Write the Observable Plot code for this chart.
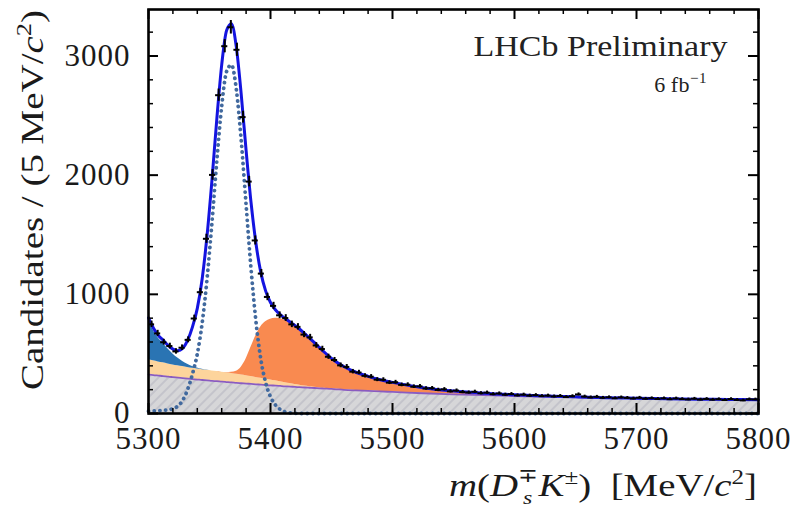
<!DOCTYPE html>
<html><head><meta charset="utf-8">
<script src="https://cdn.jsdelivr.net/npm/d3@7"></script>
<script src="https://cdn.jsdelivr.net/npm/@observablehq/plot@0.6"></script>
<style>body{margin:0;background:#fff;} svg{display:block}</style>
</head><body><div id="chart"></div>
<script>
// Fit-curve mass grid (MeV/c^2)
const massGrid = [5300,5304,5308,5312,5316,5320,5324,5328,5332,5336,5340,5344,5348,5352,5356,5360,5364,5368,5372,5376,5380,5384,5388,5392,5396,5400,5404,5408,5412,5416,5420,5424,5428,5432,5436,5440,5444,5448,5452,
  5460,5470,5480,5490,5500,
  5525,5550,5575,5600,5625,5650,5675,5700,5725,5750,5775,5800];
// Combinatorial background (grey hatched)
const combinatorial = [318,313,309,305,300,296,292,288,284,280,276,272,269,265,262,258,255,252,248,245,242,239,236,233,230,227,225,222,219,217,214,212,209,207,205,202,200,198,196,
  191,186,182,177,173,
  163,154,147,140,134,129,124,120,117,113,111,108];
// Small purple component
const purpleComp = [9,9,9,9,9,9,9,9,9,9,9,9,9,9,9,9,9,9,9,9,9,9,9,9,9,9,9,9,9,9,9,9,9,9,9,9,9,9,9,
  8,8,8,8,8,
  7,7,7,7,7,7,7,7,7,7,7,7];
// Light orange (partially reconstructed)
const peachComp = [125,120,115,111,107,103,100,97,94,91,89,87,85,83,81,79,77,75,72,69,66,62,58,54,50,45,40,35,30,25,20,16,12,9,6,4,2,1,0,
  0,0,0,0,0,
  0,0,0,0,0,0,0,0,0,0,0,0];
// Dark blue (low-mass tail)
const blueComp = [330,255,200,165,125,92,64,42,26,15,8,3,1,0,0,0,0,0,0,0,0,0,0,0,0,0,0,0,0,0,0,0,0,0,0,0,0,0,0,
  0,0,0,0,0,
  0,0,0,0,0,0,0,0,0,0,0,0];
// Orange (misidentified) hump
const orangeComp = [0,0,0,0,0,0,0,0,0,0,0,0,0,0,0,0,3,10,25,65,140,245,350,430,480,510,525,530,525,512,495,470,440,408,375,340,305,272,242,
  195,152,122,98,80,
  46,27,16,10,6,4,2,1,0,0,0,0];
// Signal (dotted)
const signalComp = [20,21,23,26,30,40,62,110,200,330,500,760,1130,1600,2120,2580,2870,2925,2720,2290,1750,1220,780,460,260,140,72,34,14,5,1,0,0,0,0,0,0,0,0,
  0,0,0,0,0,
  0,0,0,0,0,0,0,0,0,0,0,0];

// Data: 5 MeV bins starting at 5300
const binStart = 5300, binWidth = 5;
const counts = [748,672,598,566,521,552,618,797,1018,1466,
  2002,2671,3082,3241,3052,2487,1946,1452,1174,978,
  903,824,801,748,727,662,639,571,541,476,
  449,404,391,351,344,316,309,284,283,259,
  262,240,242,225,228,210,212,198,203,186,
  192,180,176,182,170,175,162,168,158,163,
  152,158,150,154,146,150,143,147,138,145,
  160,142,135,140,132,136,128,135,131,126,
  132,124,128,122,127,120,126,121,118,124,
  117,122,116,120,113,121,114,110,119,118];

const xMajor = [5300,5400,5500,5600,5700,5800];
const xMinor = [5320,5340,5360,5380,5420,5440,5460,5480,5520,5540,5560,5580,5620,5640,5660,5680,5720,5740,5760,5780];
const yMajor = [0,1000,2000,3000];
const yMinor = [200,400,600,800,1200,1400,1600,1800,2200,2400,2600,2800,3200];

const fit = massGrid.map((m, i) => {
  const c0 = combinatorial[i];
  const c1 = c0 + purpleComp[i];
  const c2 = c1 + peachComp[i];
  const c3 = c2 + blueComp[i];
  const c4 = c3 + orangeComp[i];
  return {m, c0, c1, c2, c3, c4, sig: signalComp[i], tot: c4 + signalComp[i]};
});
const pts = counts.map((n, i) => ({m: binStart + binWidth * (i + 0.5), n, e: Math.sqrt(n)}));

const curve = "monotone-x";
const W = 799, H = 516, mT = 9, mR = 41, mB = 103, mL = 148;
const fh = H - mT - mB, fw = W - mL - mR;

const svg = Plot.plot({
  width: W, height: H,
  marginTop: mT, marginRight: mR, marginBottom: mB, marginLeft: mL,
  x: {domain: [5300, 5800]},
  y: {domain: [0, 3390]},
  style: {fontFamily: "'Liberation Serif', serif", fontSize: "31px", color: "#1a1a1a", background: "white", letterSpacing: "1px"},
  marks: [
    Plot.area(fit, {x1: "m", y1: 0, y2: "c0", fill: "url(#hatch)", curve}),
    Plot.area(fit, {x1: "m", y1: "c1", y2: "c2", fill: "#fdd49c", curve}),
    Plot.area(fit, {x1: "m", y1: "c2", y2: "c3", fill: "#2a74b3", curve}),
    Plot.area(fit, {x1: "m", y1: "c3", y2: "c4", fill: "#f98a50", curve}),
    Plot.line(fit, {x: "m", y: "c1", stroke: "#8a5cc0", strokeWidth: 1.8, curve}),
    Plot.line(fit, {x: "m", y: "sig", stroke: "#41699e", strokeWidth: 3.8, strokeDasharray: "0.1 5.6", strokeLinecap: "round", curve}),
    Plot.line(fit, {x: "m", y: "tot", stroke: "#1414e0", strokeWidth: 3, curve}),
    Plot.ruleX(pts, {x: "m", y1: d => d.n - d.e, y2: d => d.n + d.e, stroke: "black", strokeWidth: 2}),
    Plot.ruleY(pts, {y: "n", x1: d => d.m - binWidth / 2, x2: d => d.m + binWidth / 2, stroke: "black", strokeWidth: 2}),
    // inward ticks on all four sides
    Plot.tickX(xMajor, {x: d => d, insetTop: fh - 10, stroke: "black", strokeWidth: 2}),
    Plot.tickX(xMajor, {x: d => d, insetBottom: fh - 10, stroke: "black", strokeWidth: 2}),
    Plot.tickX(xMinor, {x: d => d, insetTop: fh - 5, stroke: "black", strokeWidth: 1.5}),
    Plot.tickX(xMinor, {x: d => d, insetBottom: fh - 5, stroke: "black", strokeWidth: 1.5}),
    Plot.tickY(yMajor, {y: d => d, insetRight: fw - 10, stroke: "black", strokeWidth: 2}),
    Plot.tickY(yMajor, {y: d => d, insetLeft: fw - 10, stroke: "black", strokeWidth: 2}),
    Plot.tickY(yMinor, {y: d => d, insetRight: fw - 5, stroke: "black", strokeWidth: 1.5}),
    Plot.tickY(yMinor, {y: d => d, insetLeft: fw - 5, stroke: "black", strokeWidth: 1.5}),
    Plot.axisX(xMajor, {tickSize: 0, tickPadding: 13, label: null, tickFormat: d => String(d)}),
    Plot.axisY(yMajor, {tickSize: 0, tickPadding: 18, label: null, tickFormat: d => String(d)}),
    Plot.frame({stroke: "black", strokeWidth: 2.6}),
    Plot.text(["LHCb Preliminary"], {text: d => d, frameAnchor: "top-right", dx: -31, dy: 46, textAnchor: "end", lineAnchor: "bottom", fontSize: 30, fill: "#222"})
  ]
});

// hatch pattern for the combinatorial background
const defs = d3.select(svg).insert("defs", ":first-child");
const pat = defs.append("pattern").attr("id", "hatch").attr("patternUnits", "userSpaceOnUse")
  .attr("width", 7).attr("height", 7).attr("patternTransform", "rotate(45)");
pat.append("rect").attr("width", 7).attr("height", 7).attr("fill", "#d6d6d8");
pat.append("line").attr("x1", 1).attr("y1", 0).attr("x2", 1).attr("y2", 7).attr("stroke", "#c0c0c8").attr("stroke-width", 1.6);

const s = d3.select(svg);
// stretch the experiment label like the wide Computer Modern face
s.selectAll("text").filter(function() { return this.textContent === "LHCb Preliminary"; })
  .attr("textLength", 254).attr("lengthAdjust", "spacingAndGlyphs").style("letter-spacing", "0px");

// luminosity label with superscript
const lum = s.append("text").attr("x", 707).attr("y", 92).attr("text-anchor", "end")
  .attr("font-size", 22).attr("fill", "#222").style("letter-spacing", "0.5px");
lum.append("tspan").text("6\u2009fb");
lum.append("tspan").attr("font-size", 15).attr("dy", -9).text("\u22121");

// axis titles with sub/superscripts
const xl = s.append("text").attr("x", W - mR - 1).attr("y", 496).attr("text-anchor", "end")
  .attr("font-size", 31).attr("fill", "#1a1a1a").style("letter-spacing", "0px")
  .attr("textLength", 308).attr("lengthAdjust", "spacingAndGlyphs");
xl.append("tspan").attr("font-style", "italic").text("m");
xl.append("tspan").text("(");
xl.append("tspan").attr("font-style", "italic").text("D");
xl.append("tspan").attr("font-size", 19).attr("dy", -14).text("\u2213");
xl.append("tspan").attr("font-size", 19).attr("font-style", "italic").attr("dx", -12).attr("dy", 22).text("s");
xl.append("tspan").attr("font-style", "italic").attr("dx", 5).attr("dy", -8).text("K");
xl.append("tspan").attr("font-size", 20).attr("dy", -12).text("\u00B1");
xl.append("tspan").attr("dy", 12).text(")\u2002[MeV/");
xl.append("tspan").attr("font-style", "italic").text("c");
xl.append("tspan").attr("font-size", 20).attr("dy", -12).text("2");
xl.append("tspan").attr("dy", 12).text("]");

const yl = s.append("text").attr("transform", `translate(43,${mT + 1}) rotate(-90)`).attr("text-anchor", "end")
  .attr("font-size", 31).attr("fill", "#1a1a1a").style("letter-spacing", "0px")
  .attr("textLength", 380).attr("lengthAdjust", "spacingAndGlyphs");
yl.append("tspan").text("Candidates / (5 MeV/");
yl.append("tspan").attr("font-style", "italic").text("c");
yl.append("tspan").attr("font-size", 21).attr("dy", -12).text("2");
yl.append("tspan").attr("dy", 12).text(")");

document.getElementById("chart").appendChild(svg);
</script></body></html>
